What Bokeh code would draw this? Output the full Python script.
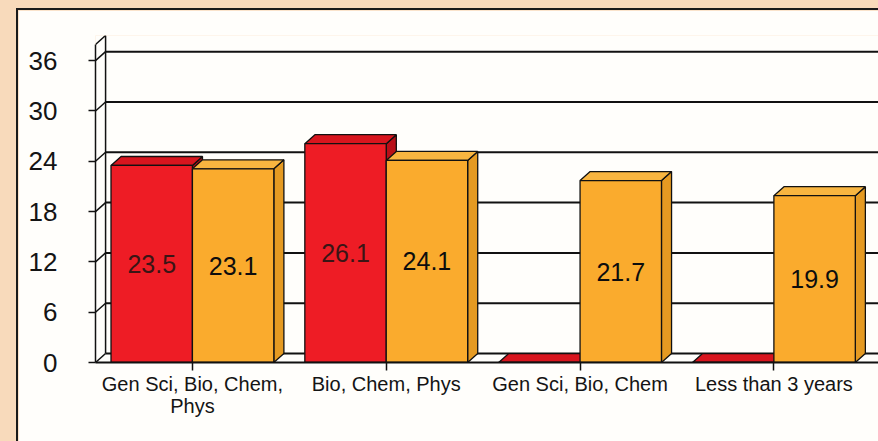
from bokeh.plotting import figure
from bokeh.layouts import column
from bokeh.models import Range1d, FixedTicker, ColumnDataSource
from bokeh.embed import file_html
from bokeh.resources import INLINE
from bokeh.core.properties import value

categories = ["Gen Sci, Bio, Chem,\nPhys", "Bio, Chem, Phys", "Gen Sci, Bio, Chem", "Less than 3 years"]
red_values = [23.5, 26.1, 0, 0]
orange_values = [23.1, 24.1, 21.7, 19.9]
y_ticks = [0, 6, 12, 18, 24, 30, 36]

# styling / geometry constants
BAR_W = 0.42
DX = 0.052   # depth offset (x, data units)
DY = 1.07    # depth offset (y, data units)
X0, X1 = -0.5, 3.55
Y_TOP = 39
FONT = "Liberation Sans"

p = figure(width=862, height=433, x_range=Range1d(X0, X1), y_range=Range1d(0, Y_TOP),
           output_backend="svg", toolbar_location=None,
           min_border_left=77, min_border_right=0, min_border_top=25, min_border_bottom=81)
p.background_fill_color = "#fffefb"
p.border_fill_color = "#fffefb"
p.outline_line_color = None
p.xgrid.visible = False
p.ygrid.visible = False

# back wall grid lines
gx0 = [X0 + DX] * len(y_ticks)
gx1 = [X1] * len(y_ticks)
gy = [t + DY for t in y_ticks]
p.segment(x0=gx0, y0=gy, x1=gx1, y1=gy, line_color="#111111", line_width=2)
# left wall diagonals
p.segment(x0=[X0] * len(y_ticks), y0=y_ticks, x1=gx0, y1=gy, line_color="#111111", line_width=1.5)
# left wall back edge and top
p.segment(x0=[X0 + DX], y0=[DY], x1=[X0 + DX], y1=[Y_TOP], line_color="#111111", line_width=1.5)
p.segment(x0=[X0], y0=[Y_TOP - DY], x1=[X0 + DX], y1=[Y_TOP], line_color="#111111", line_width=1.5)

def draw_bars(vals, offset_left, front, top, side):
    xs_top, ys_top, xs_side, ys_side = [], [], [], []
    lefts, rights = [], []
    for i, v in enumerate(vals):
        l = i + offset_left
        r = l + BAR_W
        lefts.append(l); rights.append(r)
        xs_top.append([l, r, r + DX, l + DX]); ys_top.append([v, v, v + DY, v + DY])
        xs_side.append([r, r + DX, r + DX, r]); ys_side.append([0, DY, v + DY, v])
    p.patches(xs_side, ys_side, fill_color=side, line_color="#111111", line_width=1.3)
    p.patches(xs_top, ys_top, fill_color=top, line_color="#111111", line_width=1.3)
    p.quad(left=lefts, right=rights, bottom=[0] * len(vals), top=vals,
           fill_color=front, line_color="#111111", line_width=1.3)

draw_bars(red_values, -BAR_W, "#ee1c25", "#d8151e", "#b80f18")
draw_bars(orange_values, 0.0, "#faab2d", "#f8b540", "#e59a22")

# value labels
rl = ColumnDataSource(dict(x=[i - BAR_W / 2 for i, v in enumerate(red_values) if v > 0],
                           y=[v / 2 for v in red_values if v > 0],
                           t=[f"{v:.1f}" for v in red_values if v > 0]))
ol = ColumnDataSource(dict(x=[i + BAR_W / 2 for i in range(len(orange_values))],
                           y=[v / 2 for v in orange_values],
                           t=[f"{v:.1f}" for v in orange_values]))
p.text(x="x", y="y", text="t", source=rl, text_font=value(FONT), text_font_size="25px",
       text_align="center", text_baseline="middle", text_color="#3a1515")
p.text(x="x", y="y", text="t", source=ol, text_font=value(FONT), text_font_size="25px",
       text_align="center", text_baseline="middle", text_color="#0d0d0d")

# axes
ya = p.yaxis[0]
ya.ticker = FixedTicker(ticks=y_ticks)
ya.bounds = (0, Y_TOP - DY)
ya.axis_line_color = "#111111"
ya.axis_line_width = 1.5
ya.major_tick_out = 7
ya.major_tick_in = 0
ya.major_tick_line_width = 1.5
ya.major_tick_line_color = "#111111"
ya.minor_tick_line_color = None
ya.major_label_standoff = 31
ya.major_label_text_font = FONT
ya.major_label_text_font_size = "26px"
ya.major_label_text_color = "#141414"

xa = p.xaxis[0]
xa.ticker = FixedTicker(ticks=list(range(len(categories))))
xa.major_label_overrides = {i: c for i, c in enumerate(categories)}
xa.axis_line_color = "#111111"
xa.axis_line_width = 2
xa.major_tick_out = 8
xa.major_tick_in = 0
xa.major_tick_line_color = "#111111"
xa.major_tick_line_width = 1.5
xa.minor_tick_line_color = None
xa.major_label_standoff = 2
xa.major_label_text_font = FONT
xa.major_label_text_font_size = "20px"
xa.major_label_text_line_height = 1.0
xa.major_label_text_color = "#141414"

p.styles = {"border-left": "2px solid #1a1a1a", "border-top": "2px solid #1a1a1a"}
layout = column(p, styles={"background-color": "#f8dabb", "padding-left": "16px", "padding-top": "8px"})

open("out.html", "w").write(file_html(layout, INLINE))
